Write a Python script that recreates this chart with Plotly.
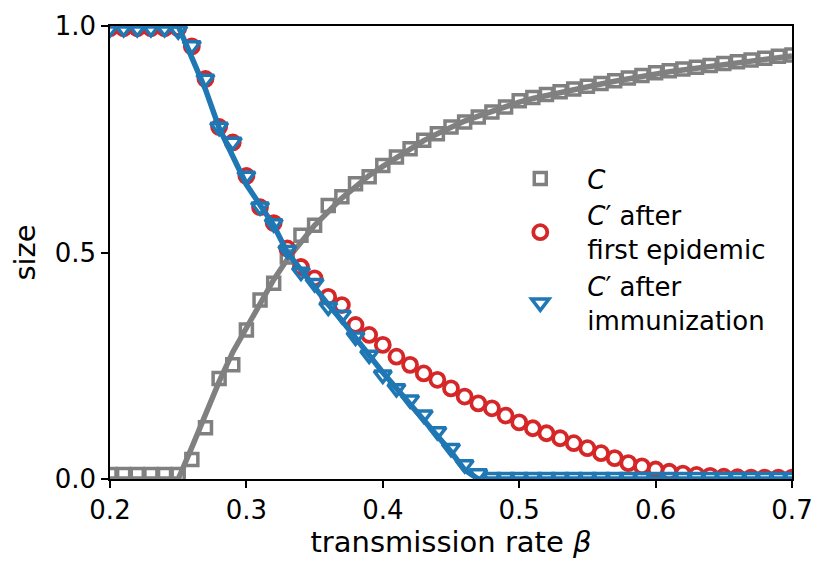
import plotly.graph_objects as go

# transmission rate grid (simulation points)
beta = [round(0.2 + 0.01 * i, 2) for i in range(51)]

# simulated sizes
c_sim = [0.01, 0.01, 0.01, 0.01, 0.01, 0.01, 0.043, 0.113, 0.222, 0.252,
         0.329, 0.395, 0.432, 0.49, 0.538, 0.56, 0.604, 0.623, 0.652, 0.667,
         0.692, 0.711, 0.729, 0.748, 0.762, 0.777, 0.788, 0.799, 0.81, 0.821,
         0.835, 0.842, 0.849, 0.855, 0.861, 0.867, 0.873, 0.879, 0.885, 0.891,
         0.897, 0.901, 0.905, 0.909, 0.913, 0.917, 0.921, 0.925, 0.929, 0.933,
         0.936]
c1_sim = [0.995, 0.995, 0.995, 0.995, 0.995, 0.995, 0.955, 0.883, 0.777, 0.743,
          0.669, 0.6, 0.565, 0.509, 0.468, 0.443, 0.402, 0.384, 0.34, 0.318,
          0.296, 0.27, 0.252, 0.233, 0.219, 0.2, 0.182, 0.167, 0.156, 0.14,
          0.125, 0.112, 0.101, 0.09, 0.079, 0.068, 0.057, 0.046, 0.035, 0.028,
          0.021, 0.016, 0.012, 0.009, 0.007, 0.005, 0.004, 0.003, 0.003, 0.003,
          0.003]
c2_sim = [0.995, 0.995, 0.995, 0.995, 0.995, 0.99, 0.957, 0.883, 0.777, 0.744,
          0.669, 0.601, 0.564, 0.505, 0.457, 0.432, 0.38, 0.362, 0.314, 0.274,
          0.23, 0.2, 0.175, 0.142, 0.105, 0.068, 0.032, 0.012, 0.004, 0.004,
          0.004, 0.004, 0.004, 0.004, 0.004, 0.004, 0.004, 0.004, 0.004, 0.004,
          0.004, 0.004, 0.004, 0.004, 0.004, 0.004, 0.004, 0.004, 0.004, 0.004,
          0.004]

# theory curves
c_theory = [0, 0, 0, 0, 0, 0, 0.07, 0.145, 0.215, 0.28,
            0.335, 0.39, 0.44, 0.485, 0.525, 0.56, 0.59, 0.62, 0.645, 0.67,
            0.69, 0.71, 0.73, 0.747, 0.762, 0.777, 0.79, 0.801, 0.812, 0.822,
            0.832, 0.84, 0.847, 0.854, 0.86, 0.866, 0.872, 0.878, 0.884, 0.889,
            0.894, 0.899, 0.903, 0.907, 0.911, 0.915, 0.919, 0.923, 0.927, 0.93,
            0.934]
c2_theory = [1, 1, 1, 1, 1, 1, 0.93, 0.86, 0.775, 0.71,
             0.65, 0.605, 0.56, 0.5, 0.46, 0.42, 0.385, 0.35, 0.31, 0.275,
             0.235, 0.2, 0.165, 0.13, 0.095, 0.06, 0.02, 0, 0, 0,
             0, 0, 0, 0, 0, 0, 0, 0, 0, 0,
             0, 0, 0, 0, 0, 0, 0, 0, 0, 0,
             0]

GRAY = "#808080"
RED = "#d62728"
BLUE = "#1f77b4"

fig = go.Figure()
fig.add_trace(go.Scatter(x=beta, y=c_theory, mode="lines",
                         line=dict(color=GRAY, width=5.5), showlegend=False))
fig.add_trace(go.Scatter(x=beta, y=c_sim, mode="markers", name="<i>C</i>",
                         marker=dict(symbol="square-open", size=12, color=GRAY,
                                     line=dict(width=3.5))))
fig.add_trace(go.Scatter(x=beta, y=c1_sim, mode="markers",
                         name="<i>C</i>′ after<br>first epidemic",
                         marker=dict(symbol="circle-open", size=14, color=RED,
                                     line=dict(width=3.8))))
fig.add_trace(go.Scatter(x=beta, y=c2_theory, mode="lines",
                         line=dict(color=BLUE, width=5.5), showlegend=False))
fig.add_trace(go.Scatter(x=beta, y=c2_sim, mode="markers",
                         name="<i>C</i>′ after<br>immunization",
                         marker=dict(symbol="triangle-down-open", size=15, color=BLUE,
                                     line=dict(width=3.5))))

axis_style = dict(showline=True, mirror=True, linecolor="black", linewidth=1.6,
                  ticks="outside", ticklen=7, tickwidth=1.6, tickcolor="black",
                  showgrid=False, zeroline=False, automargin=False,
                  tickfont=dict(size=26, color="black"))

fig.update_layout(
    width=830, height=574,
    margin=dict(l=102, r=46, t=18, b=103),
    plot_bgcolor="white", paper_bgcolor="white",
    font=dict(family="DejaVu Sans", size=26, color="black"),
    xaxis=dict(range=[0.2, 0.7], tickvals=[0.2, 0.3, 0.4, 0.5, 0.6, 0.7],
               tickformat=".1f",
               title=dict(text="transmission rate <i>β</i>", font=dict(size=29),
                          standoff=8),
               **axis_style),
    yaxis=dict(range=[0, 1], tickvals=[0, 0.5, 1.0], tickformat=".1f",
               title=dict(text="size", font=dict(size=29), standoff=10),
               **axis_style),
    legend=dict(x=0.562, y=0.715, xanchor="left", yanchor="top",
                bgcolor="rgba(0,0,0,0)", font=dict(size=26),
                itemwidth=84, tracegroupgap=0),
)

fig.write_html("out.html")
